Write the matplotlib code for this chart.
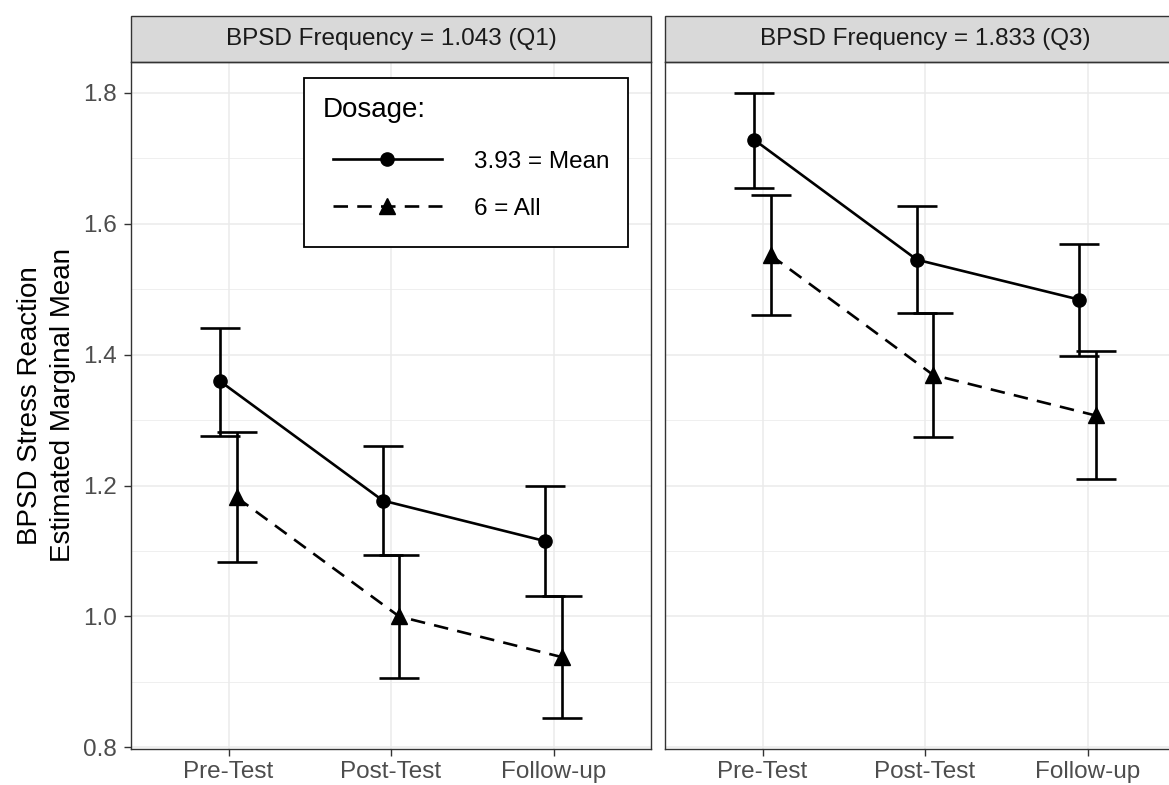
import numpy as np
import matplotlib
matplotlib.use('Agg')
import matplotlib.pyplot as plt
from matplotlib.patches import Rectangle
from matplotlib.ticker import MultipleLocator, FormatStrFormatter
from matplotlib.offsetbox import HPacker, VPacker, DrawingArea

plt.rcParams['font.family'] = ['Liberation Sans', 'DejaVu Sans']

# data
timepoints = ['Pre-Test', 'Post-Test', 'Follow-up']
facet_titles = ['BPSD Frequency = 1.043 (Q1)', 'BPSD Frequency = 1.833 (Q3)']
dosage_labels = ['3.93 = Mean', '6 = All']

# Q1 panel
mean_q1 = [1.359, 1.177, 1.115]
mean_q1_lo = [1.276, 1.094, 1.032]
mean_q1_hi = [1.441, 1.260, 1.199]
all_q1 = [1.182, 1.000, 0.938]
all_q1_lo = [1.083, 0.906, 0.845]
all_q1_hi = [1.282, 1.094, 1.032]

# Q3 panel
mean_q3 = [1.728, 1.545, 1.484]
mean_q3_lo = [1.655, 1.463, 1.398]
mean_q3_hi = [1.800, 1.627, 1.569]
all_q3 = [1.552, 1.369, 1.307]
all_q3_lo = [1.460, 1.274, 1.210]
all_q3_hi = [1.644, 1.463, 1.405]

panels = [
    [(mean_q1, mean_q1_lo, mean_q1_hi), (all_q1, all_q1_lo, all_q1_hi)],
    [(mean_q3, mean_q3_lo, mean_q3_hi), (all_q3, all_q3_lo, all_q3_hi)],
]

# styling
W, H = 1169, 785
dodge = 0.05
lw = 1.9
styles = [dict(marker='o', ms=9.5, ls='-'),
          dict(marker='^', ms=11, ls=(0, (5.5, 3.5)))]
grid_col = '#EBEBEB'
border_col = '#333333'
txt_col = '#4D4D4D'
fs = 17.5

fig = plt.figure(figsize=(W / 100, H / 100), dpi=100)

ax_left_px = [131, 665]
ax_w_px = 520
ax_top_px, ax_bot_px = 61.7, 749
ax_h_px = ax_bot_px - ax_top_px
strip_h = 46 / ax_h_px

axes = []
for i, lx in enumerate(ax_left_px):
    ax = fig.add_axes([lx / W, (H - ax_bot_px) / H, ax_w_px / W, ax_h_px / H])
    axes.append(ax)
    x = np.arange(1, len(timepoints) + 1)
    handles = []
    for j, (vals, lo, hi) in enumerate(panels[i]):
        xs = x + (-dodge if j == 0 else dodge)
        vals = np.array(vals)
        err = [vals - np.array(lo), np.array(hi) - vals]
        ax.errorbar(xs, vals, yerr=err, fmt='none', ecolor='black',
                    elinewidth=lw, capsize=14.4, capthick=lw, zorder=3)
        st = styles[j]
        h, = ax.plot(xs, vals, color='black', lw=lw, linestyle=st['ls'],
                     marker=st['marker'], markersize=st['ms'], zorder=4,
                     label=dosage_labels[j])
        handles.append(h)

    ax.set_xlim(0.4, 3.6)
    ax.set_ylim(0.7975, 1.8475)
    ax.set_xticks(x)
    ax.set_xticklabels(timepoints)
    ax.yaxis.set_major_locator(MultipleLocator(0.2))
    ax.yaxis.set_minor_locator(MultipleLocator(0.1))
    ax.yaxis.set_major_formatter(FormatStrFormatter('%.1f'))
    ax.grid(True, which='major', color=grid_col, lw=1.1, zorder=0)
    ax.grid(True, which='minor', axis='y', color=grid_col, lw=0.55, zorder=0)
    ax.set_axisbelow(True)
    ax.tick_params(which='major', length=5, width=1.0, color=border_col,
                   labelsize=fs, labelcolor=txt_col, pad=3.5)
    ax.tick_params(axis='y', which='major', pad=5)
    ax.tick_params(which='minor', length=0)
    for sp in ax.spines.values():
        sp.set_color(border_col)
        sp.set_linewidth(1.0)
    if i == 1:
        ax.tick_params(axis='y', which='both', length=0, labelleft=False)

    # facet strip
    ax.add_patch(Rectangle((0, 1), 1, strip_h, transform=ax.transAxes,
                           facecolor='#D9D9D9', edgecolor=border_col, lw=1.0,
                           clip_on=False))
    ax.text(0.5, 1 + strip_h / 2, facet_titles[i], transform=ax.transAxes,
            ha='center', va='center', fontsize=fs, color='#1A1A1A')

    if i == 0:
        leg = ax.legend(handles=handles, title='Dosage:', loc='upper left',
                        bbox_to_anchor=(0.3327, 0.9763), borderaxespad=0,
                        fontsize=fs, title_fontsize=20, frameon=True,
                        fancybox=False, edgecolor='black', handlelength=4.5,
                        handletextpad=1.3, labelspacing=1.03, borderpad=0.78,
                        alignment='left')
        leg.get_frame().set_linewidth(1.3)
        leg.get_frame().set_alpha(1)
        # indent the keys under the title and leave a bit more room below,
        # like ggplot's legend box
        hb = leg._legend_handle_box
        hb.pad = 0
        inner = VPacker(children=[HPacker(children=[DrawingArea(7, 0), hb],
                                          pad=0, sep=0),
                                  DrawingArea(0, 6)],
                        pad=0, sep=0, align='left')
        leg._legend_box._children[1] = inner
        leg._legend_box.sep = 20
        leg._legend_box.set_figure(fig)

axes[0].set_ylabel('BPSD Stress Reaction\nEstimated Marginal Mean', fontsize=20,
                   color='black', labelpad=5, linespacing=1.35)

fig.savefig('out.png', dpi=100)
